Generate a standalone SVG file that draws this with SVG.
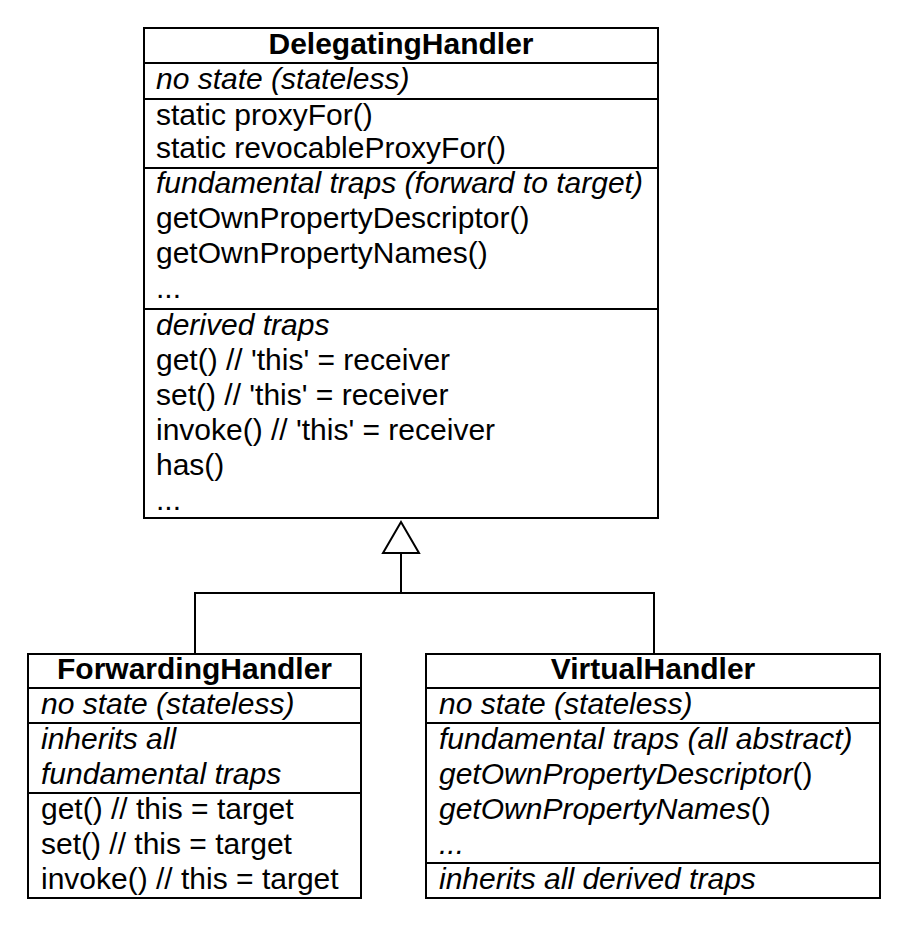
<svg xmlns="http://www.w3.org/2000/svg" width="905" height="925" viewBox="0 0 905 925">
<style>
.box{fill:#fff;stroke:#000;stroke-width:2}
.div{stroke:#000;stroke-width:2}
text{font-family:"Liberation Sans",Arial,Helvetica,sans-serif;font-size:30px;fill:#000}
.t{font-weight:bold;text-anchor:middle}
.i{font-style:italic}
.conn{fill:none;stroke:#000;stroke-width:2}
</style>
<rect width="905" height="925" fill="#fff"/>
<g id="connectors">
<path class="conn" d="M401 553 V593 M195 654 V593 H654 V654"/>
<polygon points="401,522 383,553 419,553" fill="#fff" stroke="#000" stroke-width="2"/>
</g>
<g id="DelegatingHandler">
<rect class="box" x="144" y="28" width="514" height="490"/>
<line class="div" x1="144" y1="63" x2="658" y2="63"/>
<line class="div" x1="144" y1="99" x2="658" y2="99"/>
<line class="div" x1="144" y1="168" x2="658" y2="168"/>
<line class="div" x1="144" y1="309" x2="658" y2="309"/>
<text class="t" x="401" y="54">DelegatingHandler</text>
<text class="i" x="156" y="89">no state (stateless)</text>
<text x="156" y="125">static proxyFor()</text>
<text x="156" y="158">static revocableProxyFor()</text>
<text class="i" x="156" y="193">fundamental traps (forward to target)</text>
<text x="156" y="228">getOwnPropertyDescriptor()</text>
<text x="156" y="263">getOwnPropertyNames()</text>
<text x="156" y="298">...</text>
<text class="i" x="156" y="335">derived traps</text>
<text x="156" y="370">get() // 'this' = receiver</text>
<text x="156" y="405">set() // 'this' = receiver</text>
<text x="156" y="440">invoke() // 'this' = receiver</text>
<text x="156" y="475">has()</text>
<text x="156" y="510">...</text>
</g>
<g id="ForwardingHandler">
<rect class="box" x="28" y="654" width="333" height="244"/>
<line class="div" x1="28" y1="688" x2="361" y2="688"/>
<line class="div" x1="28" y1="723" x2="361" y2="723"/>
<line class="div" x1="28" y1="793" x2="361" y2="793"/>
<text class="t" x="194.5" y="679">ForwardingHandler</text>
<text class="i" x="41" y="714">no state (stateless)</text>
<text class="i" x="41" y="749">inherits all</text>
<text class="i" x="41" y="784">fundamental traps</text>
<text x="41" y="819">get() // this = target</text>
<text x="41" y="854">set() // this = target</text>
<text x="41" y="889">invoke() // this = target</text>
</g>
<g id="VirtualHandler">
<rect class="box" x="426" y="654" width="454" height="244"/>
<line class="div" x1="426" y1="688" x2="880" y2="688"/>
<line class="div" x1="426" y1="723" x2="880" y2="723"/>
<line class="div" x1="426" y1="863" x2="880" y2="863"/>
<text class="t" x="653" y="679">VirtualHandler</text>
<text class="i" x="439" y="714">no state (stateless)</text>
<text class="i" x="439" y="749">fundamental traps (all abstract)</text>
<text x="439" y="784"><tspan class="i">getOwnPropertyDescriptor</tspan>()</text>
<text x="439" y="819"><tspan class="i">getOwnPropertyNames</tspan>()</text>
<text class="i" x="439" y="854">...</text>
<text class="i" x="439" y="889">inherits all derived traps</text>
</g>
</svg>
